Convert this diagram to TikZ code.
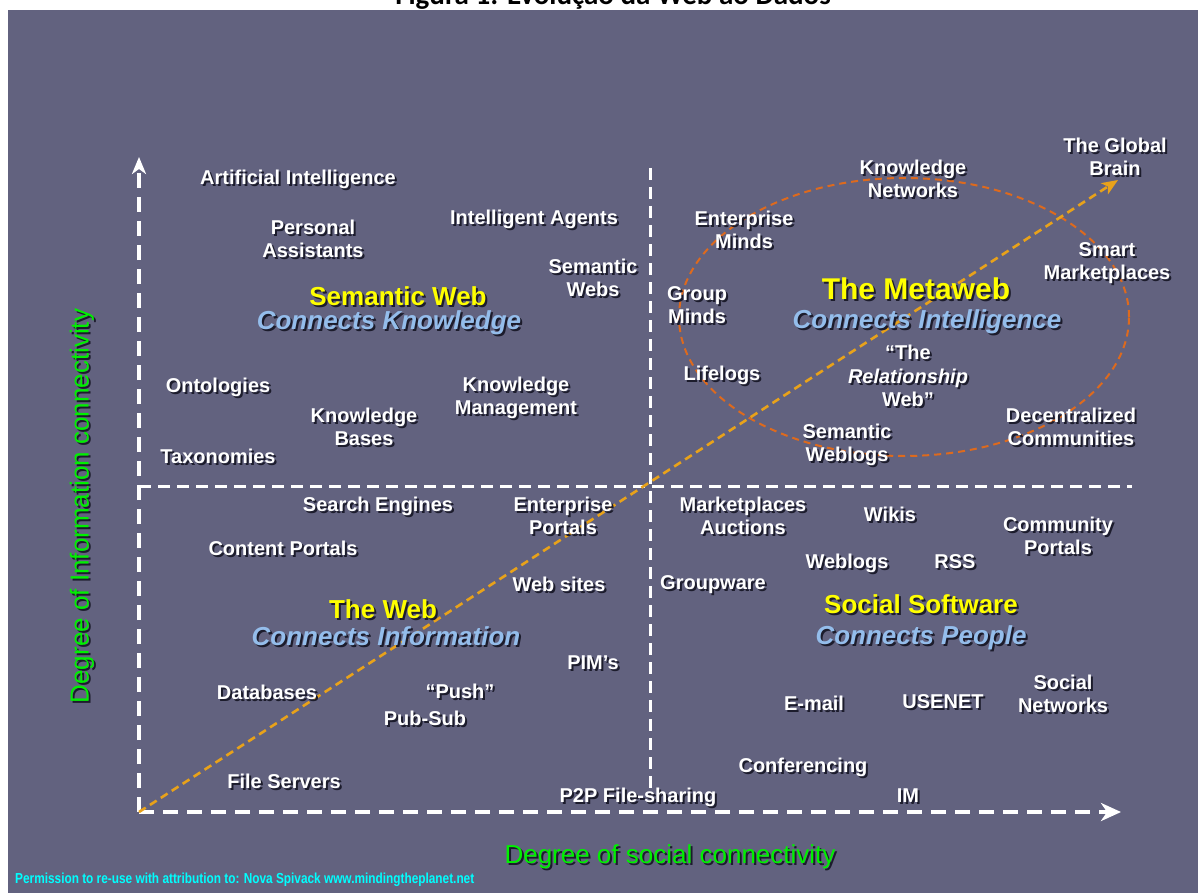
\documentclass[tikz,border=0pt]{standalone}
\usepackage{fontspec}
\setmainfont{Liberation Sans}
\newfontfamily\titlefont{Carlito}
\usetikzlibrary{arrows.meta}
\definecolor{bg}{HTML}{62627F}
\definecolor{shade}{HTML}{1C1C2C}
\definecolor{lblue}{HTML}{94BDEB}
\definecolor{ygold}{HTML}{FFFF00}
\definecolor{ggreen}{HTML}{00F000}
\definecolor{ccyan}{HTML}{00FFFF}
\definecolor{diagc}{HTML}{E8A21A}
\definecolor{ellc}{HTML}{DD6A1E}
\newcommand\Lbl[4]{%
  \node[#3, text=shade] at ([shift={(2,2)}]#2) {#4};
  \node[#3] (#1) at (#2) {#4};}
\begin{document}
\begin{tikzpicture}[x=1pt,y=-1pt,
  lab/.style={text=white, font=\fontsize{20}{23.5}\selectfont\bfseries, align=center, inner sep=0pt},
  ytitle/.style={text=ygold, font=\fontsize{26}{30}\selectfont\bfseries, inner sep=0pt},
  btitle/.style={text=lblue, font=\fontsize{26}{30}\selectfont\bfseries\itshape, inner sep=0pt},
  glab/.style={text=ggreen, font=\fontsize{26}{30}\selectfont, inner sep=0pt},
  axisline/.style={draw=white, line width=4pt, dash pattern=on 15pt off 9pt},
  divline/.style={draw=white, line width=3pt, dash pattern=on 12pt off 7pt},
  diagline/.style={draw=diagc, line width=2.6pt, dash pattern=on 8pt off 5pt},
  ellline/.style={draw=ellc, line width=2pt, dash pattern=on 7pt off 5pt}]
\useasboundingbox (0,0) rectangle (1198,893);
\fill[white] (0,0) rectangle (1198,893);
\node[anchor=base, font=\titlefont\bfseries\fontsize{29}{30}\selectfont, inner sep=0pt] (title) at (613,5) {Figura 1: Evolução da Web ao Dados};
\fill[bg] (8,10) rectangle (1198,893);

% axes and dividers
\coordinate (O) at (139,812);
\coordinate (Ytip) at (139,157);
\coordinate (Xtip) at (1121,812);
\coordinate (Vtop) at (650,168);
\coordinate (Vbot) at (650,792);
\coordinate (Hl) at (139,486);
\coordinate (Hr) at (1132,486);
\coordinate (Gtip) at (1118,180);
\draw[divline] (Vtop) -- (Vbot);
\draw[divline] (Hl) -- (Hr);
\draw[axisline, -{Stealth[length=17pt,width=14pt,inset=5pt]}] (O) -- (Ytip);
\draw[axisline, -{Stealth[length=20pt,width=18pt,inset=6pt]}] (O) -- (Xtip);
\draw[ellline] (904,317) ellipse [x radius=225pt, y radius=139pt];
\draw[diagline, -{Stealth[length=16pt,width=13pt,inset=4pt]}] (O) -- (Gtip);

% upper left
\Lbl{ai}{298,179}{lab}{Artificial Intelligence}
\Lbl{pa}{313,239}{lab}{Personal\\Assistants}
\Lbl{ia}{534,219}{lab}{Intelligent Agents}
\Lbl{sws}{593,278}{lab}{Semantic\\Webs}
\Lbl{swt}{398,296}{ytitle}{Semantic Web}
\Lbl{ck}{389,323}{btitle}{Connects Knowledge}
\Lbl{ont}{218,387}{lab}{Ontologies}
\Lbl{kb}{364,427}{lab}{Knowledge\\Bases}
\Lbl{km}{516,398}{lab}{Knowledge\\Management}
\Lbl{tax}{218,456}{lab}{Taxonomies}

% upper right
\Lbl{gb}{1115,157}{lab}{The Global\\Brain}
\Lbl{kn}{913,179}{lab}{Knowledge\\Networks}
\Lbl{em}{744,230}{lab}{Enterprise\\Minds}
\Lbl{sm}{1107,263}{lab}{Smart\\Marketplaces}
\Lbl{gm}{697,305}{lab}{Group\\Minds}
\Lbl{mwt}{916,289}{ytitle, font=\fontsize{30}{34}\selectfont\bfseries}{The Metaweb}
\Lbl{ci}{927,322}{btitle}{Connects Intelligence}
\Lbl{rw}{908,376}{lab}{“The\\\textit{Relationship}\\Web”}
\Lbl{ll}{722,375}{lab}{Lifelogs}
\Lbl{dc}{1071,427}{lab}{Decentralized\\Communities}
\Lbl{swl}{847,445}{lab}{Semantic\\Weblogs}

% lower left
\Lbl{se}{378,506}{lab}{Search Engines}
\Lbl{ep}{563,516}{lab}{Enterprise\\Portals}
\Lbl{cp}{283,548}{lab}{Content Portals}
\Lbl{ws}{559,584}{lab}{Web sites}
\Lbl{twt}{383,609}{ytitle}{The Web}
\Lbl{cinf}{386,636}{btitle}{Connects Information}
\Lbl{pim}{593,663}{lab}{PIM’s}
\Lbl{db}{267,692}{lab}{Databases}
\Lbl{push}{460,691}{lab}{“Push”}
\Lbl{ps}{425,718}{lab}{Pub-Sub}
\Lbl{fs}{284,781}{lab}{File Servers}
\Lbl{p2p}{638,797}{lab}{P2P File-sharing}

% lower right
\Lbl{ma}{743,516}{lab}{Marketplaces\\Auctions}
\Lbl{wik}{890,514}{lab}{Wikis}
\Lbl{comp}{1058,536}{lab}{Community\\Portals}
\Lbl{wbl}{847,563}{lab}{Weblogs}
\Lbl{rss}{955,562}{lab}{RSS}
\Lbl{gw}{713,585}{lab}{Groupware}
\Lbl{sst}{921,604}{ytitle}{Social Software}
\Lbl{cpe}{921,638}{btitle}{Connects People}
\Lbl{sn}{1063,694}{lab}{Social\\Networks}
\Lbl{em2}{814,703}{lab}{E-mail}
\Lbl{use}{943,702}{lab}{USENET}
\Lbl{conf}{803,767}{lab}{Conferencing}
\Lbl{im}{908,796}{lab}{IM}

% axis labels
\Lbl{xlab}{670,857}{glab}{Degree of social connectivity}
\Lbl{ylab}{82,506}{glab, rotate=90}{Degree of Information connectivity}
\node[anchor=west, text=ccyan, font=\fontsize{14.5}{16}\selectfont\bfseries, inner sep=0pt] (perm) at (15,880) {\resizebox{459pt}{\height}{Permission to re-use with attribution to: Nova Spivack www.mindingtheplanet.net}};
\end{tikzpicture}
\end{document}
